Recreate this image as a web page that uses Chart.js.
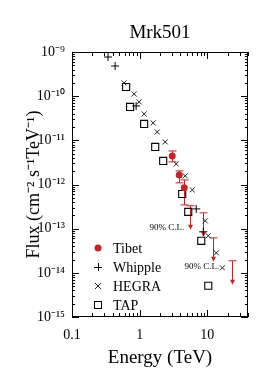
<!DOCTYPE html>
<html><head><meta charset="utf-8">
<script src="https://cdn.jsdelivr.net/npm/chart.js@4/dist/chart.umd.min.js"></script>
<style>html,body{margin:0;padding:0;background:#fff}#wrap{width:266px;height:386px;position:relative}</style>
</head><body><div id="wrap"><canvas id="c"></canvas></div>
<script>
// ---- data ----
const tibetE  = [3.03, 3.85, 4.56];
const tibetF  = [4.44e-12, 1.65e-12, 8.4e-13];
const tibetLo = [3.25e-12, 1.09e-12, 3.45e-13];
const tibetHi = [5.75e-12, 2.03e-12, 1.27e-12];
const tibetUlE = [5.6, 8.73, 12.3, 23.4];
const tibetUlF = [3.3e-13, 2.28e-13, 6.2e-14, 1.87e-14];
const whippleE = [0.341, 0.434, 0.887, 6.87, 8.73];
const whippleF = [7.7e-10, 4.82e-10, 6.0e-11, 2.8e-13, 8.5e-14];
const hegraE = [0.589, 0.830, 0.984, 1.166, 1.585, 1.82, 2.39, 3.47, 4.72, 6.0, 9.34, 10.35, 13.6, 16.7];
const hegraF = [1.99e-10, 1.12e-10, 7.4e-11, 3.95e-11, 2.48e-11, 1.55e-11, 9.2e-12, 2.92e-12, 1.57e-12, 7.55e-13, 1.50e-13, 6.9e-14, 2.83e-14, 1.30e-14];
const tapE = [0.631, 0.723, 1.166, 1.70, 2.23, 4.26, 5.23, 8.15, 10.35];
const tapF = [1.61e-10, 5.7e-11, 2.35e-11, 7.1e-12, 3.42e-12, 6.1e-13, 2.40e-13, 5.3e-14, 5.1e-15];
const seriesNames = ['Tibet', 'Whipple', 'HEGRA', 'TAP'];
const xTicks = [0.1, 1, 10];
const xTickLabels = ['0.1', '1', '10'];
const yTicks = [1e-15, 1e-14, 1e-13, 1e-12, 1e-11, 1e-10, 1e-9];
const yTickLabels = ['10⁻¹⁵', '10⁻¹⁴', '10⁻¹³', '10⁻¹²', '10⁻¹¹', '10⁻¹⁰', '10⁻⁹'];
const clLabel = '90% C.L.';
const clAt = [0, 2]; // which upper limits carry a "90% C.L." note

const SERIF = "'Liberation Serif','Times New Roman',serif";
const RED = '#c42424';
const pts = (xs, ys) => xs.map((x, i) => ({x, y: ys[i]}));

const decorPlugin = {
  id: 'decor',
  beforeDatasetsDraw(chart) {
    const {ctx, chartArea: a, scales: {x, y}} = chart;
    ctx.save();
    ctx.strokeStyle = '#000'; ctx.lineWidth = 1;
    ctx.strokeRect(Math.round(a.left) + 0.5, Math.round(a.top) + 0.5, Math.round(a.right - a.left) - 1, Math.round(a.bottom - a.top) - 1);
    ctx.beginPath();
    for (let d = -1; d <= 1; d++) for (let m = 1; m <= 9; m++) {
      const v = m * Math.pow(10, d);
      if (v > x.max) continue;
      const px = Math.round(x.getPixelForValue(v)) + 0.5, len = m === 1 ? 7 : 4;
      ctx.moveTo(px, a.bottom); ctx.lineTo(px, a.bottom - len);
      ctx.moveTo(px, a.top); ctx.lineTo(px, a.top + len);
    }
    for (let d = -15; d <= -9; d++) for (let m = 1; m <= 9; m++) {
      const v = m * Math.pow(10, d);
      if (v > y.max * 1.0001) continue;
      const py = Math.round(y.getPixelForValue(v)) + 0.5, len = m === 1 ? 7 : 3;
      ctx.moveTo(a.left, py); ctx.lineTo(a.left + len, py);
      ctx.moveTo(a.right, py); ctx.lineTo(a.right - len, py);
    }
    ctx.stroke();
    // Tibet error bars
    ctx.strokeStyle = RED; ctx.lineWidth = 1;
    ctx.beginPath();
    tibetE.forEach((e, i) => {
      const px = Math.round(x.getPixelForValue(e)) + 0.5;
      const p1 = y.getPixelForValue(tibetHi[i]), p2 = y.getPixelForValue(tibetLo[i]);
      ctx.moveTo(px, p1); ctx.lineTo(px, p2);
      ctx.moveTo(px - 4, p1); ctx.lineTo(px + 4, p1);
      ctx.moveTo(px - 4, p2); ctx.lineTo(px + 4, p2);
    });
    // Tibet upper limits
    tibetUlE.forEach((e, i) => {
      const px = Math.round(x.getPixelForValue(e)) + 0.5;
      const py = y.getPixelForValue(tibetUlF[i]);
      ctx.moveTo(px - 4, py); ctx.lineTo(px + 4, py);
      ctx.moveTo(px, py); ctx.lineTo(px, py + 22);
    });
    ctx.stroke();
    ctx.fillStyle = RED;
    tibetUlE.forEach((e, i) => {
      const px = Math.round(x.getPixelForValue(e)) + 0.5;
      const py = y.getPixelForValue(tibetUlF[i]) + 24;
      ctx.beginPath(); ctx.moveTo(px - 2.5, py - 5); ctx.lineTo(px + 2.5, py - 5); ctx.lineTo(px, py); ctx.closePath(); ctx.fill();
    });
    // C.L. notes
    ctx.fillStyle = '#000';
    ctx.font = '9px ' + SERIF;
    ctx.textBaseline = 'middle';
    clAt.forEach((k, j) => {
      const px = x.getPixelForValue(tibetUlE[k]);
      const py = y.getPixelForValue(tibetUlF[k]);
      ctx.textAlign = 'right';
      if (j === 0) ctx.fillText(clLabel, px - 6, py + 22);
      else ctx.fillText(clLabel, px + 6, py + 29);
    });
    ctx.restore();
  },
  afterDraw(chart) {
    const {ctx, chartArea: a} = chart;
    ctx.save();
    const sx = a.left + 26, tx = a.left + 41;
    chart.data.datasets.forEach((ds, i) => {
      const cy = a.bottom - 69 + i * 19;
      ctx.strokeStyle = ds.borderColor; ctx.fillStyle = ds.backgroundColor; ctx.lineWidth = 1;
      ctx.beginPath();
      if (ds.pointStyle === 'circle') { ctx.arc(sx, cy, 3.5, 0, Math.PI * 2); ctx.fill(); }
      else if (ds.pointStyle === 'cross') { ctx.moveTo(sx - 4, cy + .5); ctx.lineTo(sx + 4, cy + .5); ctx.moveTo(sx + .5, cy - 4); ctx.lineTo(sx + .5, cy + 4); ctx.stroke(); }
      else if (ds.pointStyle === 'crossRot') { ctx.moveTo(sx - 3, cy - 3); ctx.lineTo(sx + 3, cy + 3); ctx.moveTo(sx + 3, cy - 3); ctx.lineTo(sx - 3, cy + 3); ctx.stroke(); }
      else { ctx.strokeRect(Math.round(sx - 4) + .5, Math.round(cy - 4) + .5, 7, 7); }
      ctx.fillStyle = '#000';
      ctx.font = '14px ' + SERIF;
      ctx.textAlign = 'left'; ctx.textBaseline = 'middle';
      ctx.fillText(ds.label, tx, cy + 1);
    });
    ctx.restore();
  }
};

new Chart(document.getElementById('c'), {
  type: 'scatter',
  data: {
    datasets: [
      {label: seriesNames[0], data: pts(tibetE, tibetF), pointStyle: 'circle', pointRadius: 3.5, backgroundColor: RED, borderColor: RED, borderWidth: 0},
      {label: seriesNames[1], data: pts(whippleE, whippleF), pointStyle: 'cross', pointRadius: 4, backgroundColor: '#000', borderColor: '#000', borderWidth: 1},
      {label: seriesNames[2], data: pts(hegraE, hegraF), pointStyle: 'crossRot', pointRadius: 3.6, backgroundColor: '#000', borderColor: '#222', borderWidth: 1},
      {label: seriesNames[3], data: pts(tapE, tapF), pointStyle: 'rect', pointRadius: 5, backgroundColor: 'rgba(0,0,0,0)', borderColor: '#000', borderWidth: 1.1}
    ]
  },
  options: {
    responsive: true, maintainAspectRatio: false, animation: false,
    layout: {padding: {left: 0, right: 18, top: 0, bottom: 0}},
    plugins: {
      legend: {display: false}, tooltip: {enabled: false},
      title: {display: true, text: 'Mrk501', fullSize: false, color: '#000',
        font: {family: SERIF, size: 19, weight: 'normal'}, padding: {top: 21.6, bottom: 7.6}}
    },
    scales: {
      x: {
        type: 'logarithmic', min: 0.1, max: 40,
        afterBuildTicks: s => { s.ticks = xTicks.map(v => ({value: v})); },
        afterFit: s => { s.height = 69; },
        grid: {display: false, drawTicks: false}, border: {display: false},
        ticks: {color: '#000', font: {family: SERIF, size: 14}, padding: 10, maxRotation: 0,
          callback: v => { const i = xTicks.findIndex(t => Math.abs(t - v) / t < 1e-6); return i >= 0 ? xTickLabels[i] : ''; }},
        title: {display: true, text: 'Energy (TeV)', color: '#000', font: {family: SERIF, size: 19}, padding: {top: 0, bottom: 16.6}}
      },
      y: {
        type: 'logarithmic', min: 1e-15, max: 1e-9,
        afterBuildTicks: s => { s.ticks = yTicks.map(v => ({value: v})); },
        afterFit: s => { s.width = 72; },
        grid: {display: false, drawTicks: false}, border: {display: false},
        ticks: {color: '#000', font: {family: SERIF, size: 14}, padding: 7,
          callback: v => { const i = yTicks.findIndex(t => Math.abs(t - v) / t < 1e-6); return i >= 0 ? yTickLabels[i] : ''; }},
        title: {display: true, text: 'Flux (cm⁻² s⁻¹TeV⁻¹)', color: '#000', font: {family: SERIF, size: 18}, padding: {top: 23, bottom: 0}}
      }
    }
  },
  plugins: [decorPlugin]
});
</script></body></html>
